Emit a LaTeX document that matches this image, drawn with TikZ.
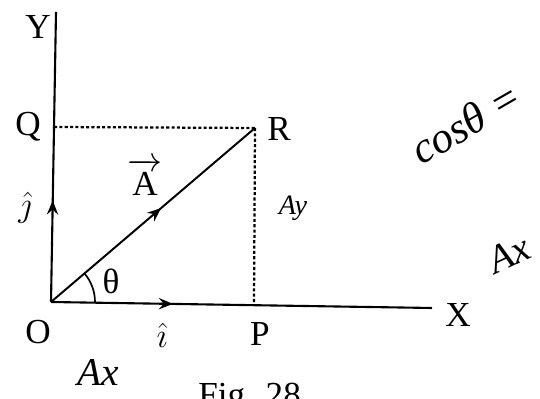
\documentclass[tikz,border=0pt]{standalone}
\usepackage{amsmath}
\usepackage{fontspec}
\setmainfont{Liberation Serif}
\usetikzlibrary{arrows.meta,decorations.markings}
\tikzset{
  axis/.style ={line width=1.5pt},
  vec/.style  ={line width=1.4pt},
  proj/.style ={line width=1.6pt, dash pattern=on 2.2pt off 1.6pt},
  lbl/.style  ={font=\fontsize{25}{28}\selectfont, inner sep=0pt},
  hand/.style ={font=\fontsize{28}{30}\selectfont\itshape, inner sep=0pt},
  tip/.style  ={decoration={markings,
                 mark=at position #1 with {\arrow{Stealth[length=10pt,width=8pt,inset=3.5pt]}}},
                postaction=decorate},
}

\begin{document}
\begin{tikzpicture}[x=0.025cm,y=0.025cm]
  \useasboundingbox (0,0) rectangle (540,399);

  % points
  \coordinate (O)    at (51,97);
  \coordinate (Ytop) at (56,387);
  \coordinate (Xend) at (432,91);
  \coordinate (R)    at (255,271);
  \coordinate (Q)    at (54,272);
  \coordinate (P)    at (254,94);

  % axes with unit vectors
  \draw[axis, tip=0.35] (O) -- (Ytop);
  \draw[axis, tip=0.32] (O) -- (Xend);

  % projections
  \draw[proj] (Q) -- (R);
  \draw[proj] (R) -- (P);

  % vector A
  \draw[vec, tip=0.54] (O) -- (R);
  \draw[line width=1.2pt] (O) ++(44,0) arc[start angle=0, end angle=40, radius=44];

  % labels
  \node[lbl] (lY)  at (38,372) {Y};
  \node[lbl] (lQ)  at (28,272) {Q};
  \node[lbl] (lR)  at (279,270) {R};
  \node[lbl] (lA)  at (145,222) {$\overrightarrow{\text{A}}$};
  \node[lbl] (lj)  at (25,191) {$\hat{\jmath}$};
  \node[lbl] (lth) at (111,118) {θ};
  \node[lbl] (lO)  at (38,67) {O};
  \node[lbl] (li)  at (162,64) {$\hat{\imath}$};
  \node[lbl] (lP)  at (260,65) {P};
  \node[lbl] (lX)  at (458,84) {X};
  \node[lbl, anchor=north west] (fig) at (198,16) {Fig. 28};

  % handwritten notes
  \node[hand, font=\fontsize{31}{33}\selectfont\itshape, rotate=30] (cos) at (466,276) {cosθ =};
  \node[hand, rotate=25, anchor=west] (ax2) at (490,136) {Ax};
  \node[hand, font=\fontsize{20}{22}\selectfont\itshape] (ay) at (293,191) {Ay};
  \node[hand] (ax1) at (98,26) {Ax};
\end{tikzpicture}
\end{document}
